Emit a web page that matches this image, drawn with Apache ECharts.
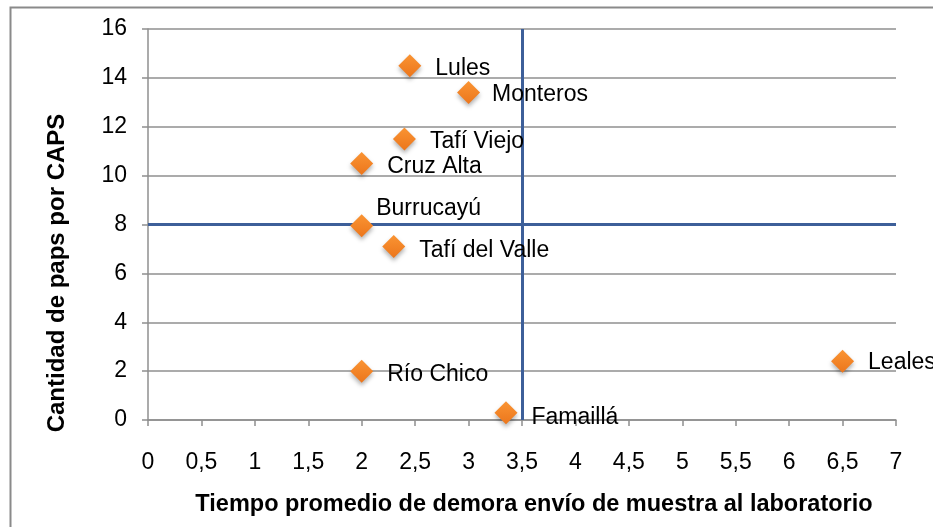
<!DOCTYPE html>
<html>
<head>
<meta charset="utf-8">
<script src="https://cdn.jsdelivr.net/npm/echarts@6/dist/echarts.min.js"></script>
<style>
html,body{margin:0;padding:0;background:#fff;}
#c{width:933px;height:527px;}
</style>
</head>
<body>
<div id="c"></div>
<script>
// Data
var names = ['Lules','Monteros','Tafí Viejo','Cruz Alta','Burrucayú','Tafí del Valle','Río Chico','Famaillá','Leales'];
var xValues = [2.45, 3.0, 2.4, 2.0, 2.0, 2.3, 2.0, 3.35, 6.5];
var yValues = [14.5, 13.4, 11.5, 10.5, 7.95, 7.1, 2.0, 0.3, 2.4];
var xRefLine = 3.5;
var yRefLine = 8;
var xTitle = 'Tiempo promedio de demora envío de muestra al laboratorio';
var yTitle = 'Cantidad de paps por CAPS';

// Label style tweaks (presentation only)
var labelOffsets = {
  'Lules': [0, 3], 'Monteros': [-2, 2], 'Tafí Viejo': [0, 3], 'Cruz Alta': [0, 3],
  'Burrucayú': [-11, -17], 'Tafí del Valle': [0, 4], 'Río Chico': [0, 4],
  'Famaillá': [0, 5], 'Leales': [0, 1]
};

var FONT = '"Liberation Sans", Arial, sans-serif';
var GRID_COLOR = '#8f8f8f';
var BLUE = '#3d5f99';

var pts = names.map(function (n, i) {
  return {
    name: n,
    value: [xValues[i], yValues[i]],
    label: { offset: labelOffsets[n] || [0, 0] }
  };
});

var chart = echarts.init(document.getElementById('c'), null, { renderer: 'canvas' });
chart.setOption({
  animation: false,
  backgroundColor: '#ffffff',
  grid: { left: 148, right: 37, top: 29, bottom: 107, containLabel: false },
  xAxis: {
    type: 'value', min: 0, max: 7, interval: 0.5,
    axisLine: { show: true, lineStyle: { color: GRID_COLOR, width: 1.5 } },
    axisTick: { show: true, length: 6, lineStyle: { color: GRID_COLOR, width: 1.5 } },
    splitLine: { show: false },
    axisLabel: {
      color: '#000', fontFamily: FONT, fontSize: 23, margin: 31,
      formatter: function (v) { return String(v).replace('.', ','); }
    }
  },
  yAxis: {
    type: 'value', min: 0, max: 16, interval: 2,
    axisLine: { show: true, lineStyle: { color: GRID_COLOR, width: 1.5 } },
    axisTick: { show: true, length: 6, lineStyle: { color: GRID_COLOR, width: 1.5 } },
    splitLine: { show: true, lineStyle: { color: GRID_COLOR, width: 1.5 } },
    axisLabel: { color: '#000', fontFamily: FONT, fontSize: 23, margin: 21 }
  },
  graphic: [
    { type: 'rect', left: 8, top: 5, shape: { width: 1000, height: 600 },
      style: { fill: 'none', stroke: '#8a8a8a', lineWidth: 2 }, z: -1, silent: true },
    { type: 'text', x: 534, y: 505,
      style: { text: xTitle, font: 'bold 23.5px ' + FONT, fill: '#000', align: 'center', verticalAlign: 'middle' } },
    { type: 'text', x: 57, y: 273, rotation: Math.PI / 2,
      style: { text: yTitle, font: 'bold 24px ' + FONT, fill: '#000', align: 'center', verticalAlign: 'middle' } }
  ],
  series: [
    {
      type: 'scatter',
      data: [],
      silent: true,
      markLine: {
        silent: true,
        symbol: ['none', 'none'],
        label: { show: false },
        lineStyle: { color: BLUE, width: 3, type: 'solid' },
        data: [{ yAxis: yRefLine }, { xAxis: xRefLine }]
      }
    },
    {
      type: 'scatter',
      symbol: 'diamond',
      symbolSize: 23,
      z: 5,
      itemStyle: {
        color: new echarts.graphic.LinearGradient(0, 0, 0, 1, [
          { offset: 0, color: '#fa9433' },
          { offset: 1, color: '#ec761c' }
        ]),
        opacity: 1,
        shadowColor: 'rgba(0,0,0,0.3)',
        shadowBlur: 4,
        shadowOffsetY: 3
      },
      label: {
        show: true,
        position: 'right',
        distance: 14,
        formatter: '{b}',
        color: '#000',
        fontFamily: FONT,
        fontSize: 23
      },
      data: pts
    }
  ]
});
</script>
</body>
</html>
